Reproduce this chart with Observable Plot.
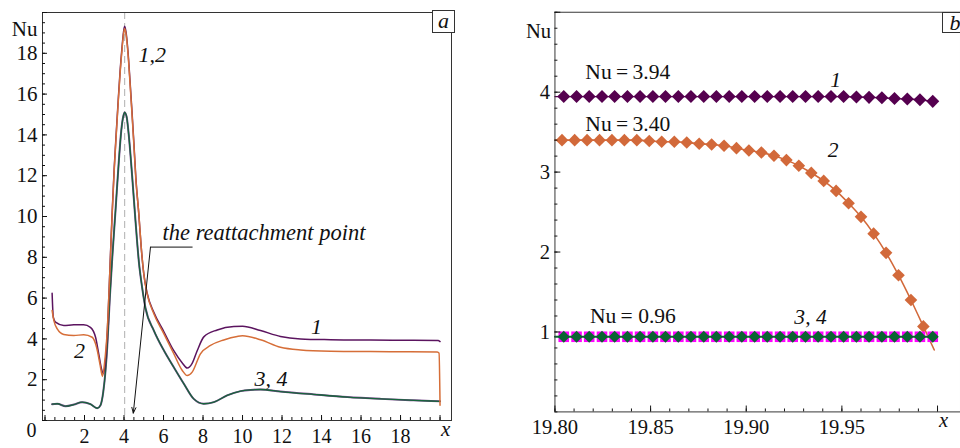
<!DOCTYPE html>
<html><head><meta charset="utf-8">
<script src="https://cdn.jsdelivr.net/npm/d3@7"></script>
<script src="https://cdn.jsdelivr.net/npm/@observablehq/plot@0.6"></script>
<style>
body{margin:0;background:#fff;}
#wrap{position:relative;width:960px;height:448px;overflow:hidden;background:#fff;font-family:'Liberation Serif','DejaVu Serif',serif;}
#wrap svg text{font-family:'Liberation Serif','DejaVu Serif',serif !important;}
#pa,#pb{position:absolute;top:0;}
#pa{left:0;} #pb{left:480px;}
.tag{position:absolute;border:1px solid #333;background:#fff;font-style:italic;font-size:22px;text-align:center;box-sizing:border-box;line-height:19px;color:#111;}
</style></head><body>
<div id="wrap"><div id="pa"></div><div id="pb"></div>
<div class="tag" style="left:432px;top:10px;width:23px;height:23px;">a</div>
<div class="tag" style="left:942px;top:12px;width:26px;height:21px;">b</div>
</div>
<script>
// ---------- panel a data ----------
const aX1 = [0.36,0.42,0.53,0.95,1.46,1.96,2.30,2.56,2.72,2.86,2.95,3.06,3.20,3.30,3.40,3.50,3.60,3.70,3.80,3.90,3.97,4.03,4.10,4.20,4.30,4.40,4.50,4.60,4.75,4.87,5.00,5.17,5.51,6.02,6.52,6.95,7.20,7.45,7.71,8.04,8.72,9.56,10.00,10.91,11.92,12.94,14.46,16.48,18.67,19.90,20.00];
const aNu1 = [6.24,5.06,4.82,4.66,4.69,4.69,4.57,4.08,3.27,2.53,2.30,2.90,5.30,7.80,10.20,12.30,14.00,15.60,17.10,18.30,19.00,19.32,19.05,18.10,16.70,15.20,13.60,11.90,10.10,8.50,7.20,6.25,5.30,4.35,3.42,2.82,2.57,2.80,3.43,4.10,4.44,4.61,4.62,4.41,4.12,4.00,3.96,3.94,3.93,3.92,3.87];
const aX2 = [0.36,0.45,0.62,0.95,1.46,1.96,2.39,2.61,2.78,2.91,3.01,3.15,3.30,3.40,3.50,3.60,3.70,3.80,3.90,3.97,4.03,4.10,4.20,4.30,4.40,4.50,4.60,4.75,4.87,5.00,5.17,5.51,6.02,6.52,6.95,7.20,7.45,7.87,8.38,9.05,9.73,10.00,10.91,11.92,12.94,14.46,16.48,18.50,19.86,19.95,20.00];
const aNu2 = [5.39,4.90,4.49,4.22,4.17,4.20,4.08,3.59,2.78,2.16,2.78,4.41,7.70,10.10,12.20,13.90,15.50,17.00,18.20,18.90,19.22,18.95,18.00,16.60,15.10,13.50,11.80,10.13,8.50,7.19,6.21,5.23,4.25,3.27,2.45,2.20,2.37,3.27,3.68,3.95,4.12,4.15,3.96,3.59,3.46,3.40,3.38,3.37,3.36,3.30,0.75];
const aX34 = [0.36,0.62,1.04,1.46,1.88,2.30,2.64,2.81,2.95,3.06,3.15,3.28,3.40,3.57,3.74,3.86,3.96,4.03,4.13,4.24,4.41,4.58,4.75,4.92,5.09,5.51,6.02,6.52,7.03,7.53,8.04,8.55,9.22,9.90,10.40,10.91,11.92,13.61,15.30,16.99,18.67,20.00];
const aNu34 = [0.80,0.82,0.70,0.78,0.90,0.80,0.60,0.75,1.40,2.40,3.60,6.00,7.90,10.30,12.75,14.20,14.90,15.10,14.90,14.00,12.00,9.80,7.80,6.50,5.50,4.41,3.43,2.61,1.80,1.06,0.82,0.90,1.23,1.44,1.50,1.52,1.42,1.28,1.15,1.06,0.99,0.94];
const aPeakX = [4.03];
const aXLabels = [2,4,6,8,10,12,14,16,18];
const aYLabels = [2,4,6,8,10,12,14,16,18];
const aLabelsStart = [
  {x: 4.73, y: 17.9, t: "1,2"},
  {x: 10.6, y: 2.04, t: "3, 4"}
];
const aLabelsMid = [
  {x: 1.75, y: 3.4, t: "2"},
  {x: 13.75, y: 4.57, t: "1"}
];
const aNote = {text: "the reattachment point", x: 5.95, y: 9.2};
const aLeader = {x1: 5.34, x2: 7.47, y: 8.5};
const aArrowTip = {x: 4.47, y: 0.36};

// ---------- panel b data ----------
const bX134 = [19.8046,19.8113,19.8179,19.8246,19.8312,19.8379,19.8445,19.8512,19.8578,19.8645,19.8711,19.8778,19.8844,19.8911,19.8977,19.9044,19.9110,19.9177,19.9243,19.9310,19.9376,19.9443,19.9509,19.9576,19.9642,19.9709,19.9775,19.9842,19.9908,19.9975];
const bX2 = [19.8037,19.8103,19.8168,19.8233,19.8298,19.8363,19.8428,19.8493,19.8558,19.8624,19.8689,19.8754,19.8819,19.8884,19.8949,19.9014,19.9079,19.9145,19.9210,19.9275,19.9340,19.9405,19.9470,19.9535,19.9600,19.9666,19.9731,19.9796,19.9861,19.9926];
const bNu1 = [3.945,3.945,3.945,3.945,3.945,3.945,3.945,3.945,3.945,3.945,3.945,3.945,3.945,3.945,3.945,3.945,3.945,3.945,3.945,3.945,3.945,3.945,3.945,3.94,3.935,3.93,3.92,3.915,3.905,3.885];
const bNu2 = [3.40,3.40,3.40,3.40,3.40,3.40,3.40,3.39,3.38,3.38,3.37,3.355,3.345,3.33,3.30,3.27,3.245,3.205,3.15,3.08,2.99,2.89,2.765,2.61,2.44,2.23,1.99,1.71,1.40,1.07];
const bNu3 = [0.94,0.94,0.94,0.94,0.94,0.94,0.94,0.94,0.94,0.94,0.94,0.94,0.94,0.94,0.94,0.94,0.94,0.94,0.94,0.94,0.94,0.94,0.94,0.94,0.94,0.94,0.94,0.94,0.94,0.94];
const bNu4 = [0.94,0.94,0.94,0.94,0.94,0.94,0.94,0.94,0.94,0.94,0.94,0.94,0.94,0.94,0.94,0.94,0.94,0.94,0.94,0.94,0.94,0.94,0.94,0.94,0.94,0.94,0.94,0.94,0.94,0.94];
const bLineStart = {x: 19.80, nu1: 3.945, nu2: 3.40, nu34: 0.94};
const bLine2End = {x: 19.9983, nu: 0.775};
const bXLabels = [19.80,19.85,19.90,19.95];
const bYLabels = [1,2,3,4];
const bValueTexts = [
  {x: 19.8159, y: 4.255, t: "Nu\u2009=\u20093.94"},
  {x: 19.8159, y: 3.60, t: "Nu\u2009=\u20093.40"},
  {x: 19.8183, y: 1.204, t: "Nu\u2009= 0.96"}
];
const bCurveTexts = [
  {x: 19.9467, y: 4.15, t: "1"},
  {x: 19.9454, y: 3.27, t: "2"},
  {x: 19.9336, y: 1.184, t: "3, 4"}
];

// ---------- colours ----------
const cPurple = "#5b145f", cOrange = "#d66e38", cGreen = "#17643c", cPurple3 = "#7a4a8c";
const bPurple = "#55004f", bOrange = "#d2693a", bGreen = "#0a6432", bMagenta = "#ff00ff";
const serif = "'Liberation Serif','DejaVu Serif',serif";

const zipXY = (xs, ys) => xs.map((x, i) => ({x, y: ys[i]}));

// ---------- panel a ----------
const A = Plot.plot({
  width: 480, height: 448,
  marginLeft: 42, marginRight: 29, marginTop: 12, marginBottom: 28,
  x: {domain: [-0.127, 20.58]},
  y: {domain: [0, 20]},
  style: {fontFamily: serif, fontSize: "20px", background: "transparent", color: "#111"},
  marks: [
    Plot.ruleX(aPeakX, {stroke: "#bdbdbd", strokeDasharray: "7,4", strokeWidth: 1.2}),
    Plot.line(zipXY(aX34, aNu34), {x: "x", y: "y", stroke: cPurple3, strokeWidth: 2.0, curve: "monotone-x"}),
    Plot.line(zipXY(aX34, aNu34), {x: "x", y: "y", stroke: cGreen, strokeWidth: 1.3, curve: "monotone-x"}),
    Plot.line(zipXY(aX1, aNu1), {x: "x", y: "y", stroke: cPurple, strokeWidth: 1.5, curve: "monotone-x"}),
    Plot.line(zipXY(aX2, aNu2), {x: "x", y: "y", stroke: cOrange, strokeWidth: 1.5, curve: "monotone-x"}),
    Plot.link([aLeader], {x1: "x1", x2: "x2", y1: "y", y2: "y", stroke: "#111", strokeWidth: 1}),
    Plot.arrow([{x1: aLeader.x1, y1: aLeader.y, x2: aArrowTip.x, y2: aArrowTip.y}], {x1: "x1", y1: "y1", x2: "x2", y2: "y2", stroke: "#111", strokeWidth: 1, headLength: 9, headAngle: 40}),
    Plot.text([aNote], {x: "x", y: "y", text: "text", textAnchor: "start", fontStyle: "italic", fontSize: 22.5, fontFamily: serif, fill: "#111"}),
    Plot.text(aLabelsStart, {x: "x", y: "y", text: "t", textAnchor: "start", fontStyle: "italic", fontSize: 22, fontFamily: serif, fill: "#111"}),
    Plot.text(aLabelsMid, {x: "x", y: "y", text: "t", textAnchor: "middle", fontStyle: "italic", fontSize: 22, fontFamily: serif, fill: "#111"}),
    Plot.frame({stroke: "#333", strokeWidth: 1}),
    Plot.axisX(d3.range(0, 20.01, 0.5), {anchor: "bottom", tickSize: -3, text: null, label: null}),
    Plot.axisX(d3.range(0, 20.01, 2), {anchor: "bottom", tickSize: -5, text: null, label: null}),
    Plot.axisX(aXLabels, {anchor: "bottom", tickSize: 0, tickPadding: 8, label: null, fontSize: 20, fontFamily: serif}),
    Plot.axisY(d3.range(0, 20.01, 0.5), {anchor: "left", tickSize: -3, text: null, label: null}),
    Plot.axisY(d3.range(0, 20.01, 2), {anchor: "left", tickSize: -5, text: null, label: null}),
    Plot.axisY(aYLabels, {anchor: "left", tickSize: 0, tickPadding: 5, label: null, fontSize: 21, fontFamily: serif}),
    Plot.text(["0"], {x: -0.68, frameAnchor: "bottom", dy: 16, text: d => d, fontSize: 20, fontFamily: serif, fill: "#111"}),
    Plot.text(["x"], {x: 20.29, frameAnchor: "bottom", dy: 15, text: d => d, fontStyle: "italic", fontSize: 21, fontFamily: serif, fill: "#111"}),
    Plot.text(["Nu"], {frameAnchor: "top-left", dx: -5, dy: 8.5, textAnchor: "end", text: d => d, fontSize: 21, fontFamily: serif, fill: "#111"})
  ]
});
document.getElementById("pa").append(A);

// ---------- panel b ----------
const line1 = [{x: bLineStart.x, y: bLineStart.nu1}, ...zipXY(bX134, bNu1)];
const line2 = [{x: bLineStart.x, y: bLineStart.nu2}, ...zipXY(bX2, bNu2), {x: bLine2End.x, y: bLine2End.nu}];
const line4 = [{x: bLineStart.x, y: bLineStart.nu34}, ...zipXY(bX134, bNu4)];
const B = Plot.plot({
  width: 490, height: 448,
  marginLeft: 76, marginRight: 0, marginTop: 12, marginBottom: 28,
  x: {domain: [19.8, 20.012]},
  y: {domain: [0, 5]},
  style: {fontFamily: serif, fontSize: "21px", background: "transparent", color: "#111"},
  marks: [
    Plot.line(line1, {x: "x", y: "y", stroke: bPurple, strokeWidth: 1.4}),
    Plot.dot(zipXY(bX134, bNu1), {x: "x", y: "y", symbol: "diamond2", r: 6.0, fill: bPurple, stroke: "none"}),
    Plot.line(line2, {x: "x", y: "y", stroke: bOrange, strokeWidth: 1.6, curve: "monotone-x"}),
    Plot.dot(zipXY(bX2, bNu2), {x: "x", y: "y", symbol: "diamond2", r: 5.8, fill: bOrange, stroke: "none"}),
    Plot.dot(zipXY(bX134, bNu3), {x: "x", y: "y", symbol: "square", r: 6.1, fill: bMagenta, stroke: "none"}),
    Plot.line(line4, {x: "x", y: "y", stroke: bGreen, strokeWidth: 2}),
    Plot.dot(zipXY(bX134, bNu4), {x: "x", y: "y", symbol: "diamond2", r: 5.5, fill: bGreen, stroke: "none"}),
    Plot.text(bValueTexts, {x: "x", y: "y", text: "t", textAnchor: "start", fontSize: 22, fontFamily: serif, fill: "#111"}),
    Plot.text(bCurveTexts, {x: "x", y: "y", text: "t", textAnchor: "middle", fontStyle: "italic", fontSize: 22, fontFamily: serif, fill: "#111"}),
    Plot.frame({stroke: "#333", strokeWidth: 1}),
    Plot.axisX(d3.range(0, 21).map(i => 19.8 + i * 0.01), {anchor: "bottom", tickSize: -3, text: null, label: null}),
    Plot.axisX([19.80,19.85,19.90,19.95,20.00], {anchor: "bottom", tickSize: -6, text: null, label: null}),
    Plot.axisX(bXLabels, {anchor: "bottom", tickSize: 0, tickPadding: 8, label: null, tickFormat: d3.format(".2f"), fontSize: 21, fontFamily: serif}),
    Plot.axisY(d3.range(0, 26).map(i => i * 0.2), {anchor: "left", tickSize: -3, text: null, label: null}),
    Plot.axisY([1,2,3,4,5], {anchor: "left", tickSize: -6, text: null, label: null}),
    Plot.axisY(bYLabels, {anchor: "left", tickSize: 0, tickPadding: 5, label: null, tickFormat: d3.format("d"), fontSize: 21, fontFamily: serif}),
    Plot.text(["x"], {x: 20.0032, frameAnchor: "bottom", dy: 15, text: d => d, fontStyle: "italic", fontSize: 21, fontFamily: serif, fill: "#111"}),
    Plot.text(["Nu"], {frameAnchor: "top-left", dx: -4, dy: 11, textAnchor: "end", text: d => d, fontSize: 21, fontFamily: serif, fill: "#111"})
  ]
});
document.getElementById("pb").append(B);
</script>
</body></html>
